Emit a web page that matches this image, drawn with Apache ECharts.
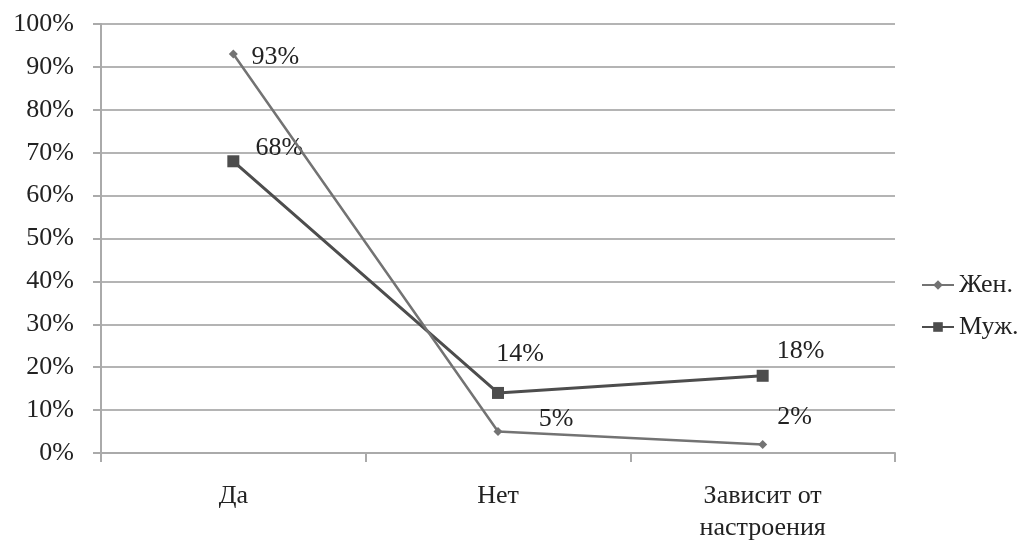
<!DOCTYPE html>
<html><head><meta charset="utf-8">
<script src="https://cdn.jsdelivr.net/npm/echarts@6/dist/echarts.min.js"></script>
<style>html,body{margin:0;padding:0;background:#fff;}#c{width:1020px;height:540px;}</style>
</head><body><div id="c"></div>
<script>
const categories = ['Да', 'Нет', 'Зависит от\nнастроения'];
const seriesNames = ['Жен.', 'Муж.'];
const women = [93, 5, 2];
const men = [68, 14, 18];
const yTicks = [0, 10, 20, 30, 40, 50, 60, 70, 80, 90, 100];

const womenOffsets = [[42, 3], [58, -12], [32, -27]];
const menOffsets = [[46, -13], [22, -39], [38, -25]];
const FONT = 'Liberation Serif';
const FS = 26;

function mk(vals, offs) {
  return vals.map((v, i) => ({ value: v, label: { offset: offs[i] } }));
}

const chart = echarts.init(document.getElementById('c'));
chart.setOption({
  backgroundColor: '#fff',
  animation: false,
  textStyle: { fontFamily: FONT, color: '#222' },
  grid: { left: 101, right: 125, top: 24, bottom: 87, outerBoundsMode: 'none', containLabel: false },
  legend: {
    orient: 'vertical', left: 916, top: 267, itemGap: 16,
    itemWidth: 32, itemHeight: 12,
    textStyle: { fontFamily: FONT, fontSize: FS, color: '#222' },
    data: seriesNames
  },
  xAxis: {
    type: 'category', data: categories, boundaryGap: true,
    axisLine: { lineStyle: { color: '#aaa', width: 2 } },
    axisTick: { show: true, length: 9, lineStyle: { color: '#aaa', width: 2 } },
    axisLabel: { fontFamily: FONT, fontSize: FS, color: '#222', margin: 27, lineHeight: 32 }
  },
  yAxis: {
    type: 'value', min: yTicks[0], max: yTicks[yTicks.length - 1], interval: 10,
    axisLine: { show: true, lineStyle: { color: '#aaa', width: 2 } },
    axisTick: { show: true, length: 8, lineStyle: { color: '#aaa', width: 2 } },
    splitLine: { lineStyle: { color: '#b4b4b4', width: 2 } },
    axisLabel: { fontFamily: FONT, fontSize: FS, color: '#222', margin: 27, formatter: '{value}%' }
  },
  series: [
    {
      name: seriesNames[0], type: 'line', data: mk(women, womenOffsets),
      symbol: 'diamond', symbolSize: 9,
      itemStyle: { color: '#737373' },
      lineStyle: { color: '#737373', width: 2.5 },
      label: { show: true, position: 'inside', formatter: '{c}%', fontFamily: FONT, fontSize: FS, color: '#222' },
      z: 3
    },
    {
      name: seriesNames[1], type: 'line', data: mk(men, menOffsets),
      symbol: 'rect', symbolSize: 12,
      itemStyle: { color: '#4d4d4d' },
      lineStyle: { color: '#4d4d4d', width: 3 },
      label: { show: true, position: 'inside', formatter: '{c}%', fontFamily: FONT, fontSize: FS, color: '#222' },
      z: 2
    }
  ]
});
</script></body></html>
